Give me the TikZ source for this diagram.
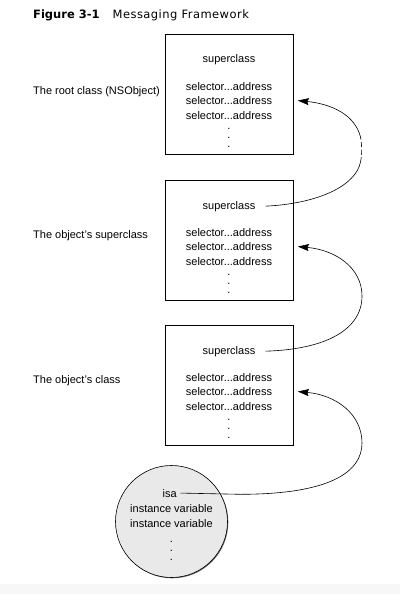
\documentclass[tikz,border=0pt]{standalone}
\usepackage{fontspec}
\setmainfont{Liberation Sans}
\newfontfamily\titlefont{DejaVu Sans}
\usetikzlibrary{arrows.meta,shadows}
\definecolor{objfill}{HTML}{E9E9E9}
\definecolor{bandfill}{HTML}{F7F7F7}
\begin{document}
\begin{tikzpicture}[x=1pt,y=-1pt,
  boxshadow/.style={drop shadow={shadow xshift=1.2pt,shadow yshift=-1.2pt,fill=black!60,opacity=1}},
  classbox/.style={draw=black,line width=0.6pt,fill=white,minimum width=128pt,minimum height=120pt,inner sep=0pt,boxshadow},
  objcircle/.style={circle,draw=black,line width=0.6pt,fill=objfill,minimum size=112pt,inner sep=0pt,
    drop shadow={shadow xshift=0.8pt,shadow yshift=-0.8pt,fill=black!60,opacity=1}},
  txt/.style={font=\fontsize{11}{13}\selectfont,anchor=base,inner sep=0pt},
  sidelabel/.style={font=\fontsize{11}{13}\selectfont,anchor=base west,inner sep=0pt},
  dotcol/.style={font=\fontsize{11}{9}\selectfont,align=center,anchor=north,inner sep=0pt},
  link/.style={line width=0.6pt,draw=black},
  linkarrow/.style={link,-{Stealth[length=11pt,width=7pt,inset=1.5pt]}},
]
\useasboundingbox (0,0) rectangle (400,594);
\fill[bandfill] (0,584) rectangle (400,594);

% title
\node[anchor=base west,inner sep=0pt,font=\titlefont\fontsize{11.5}{13}\selectfont] (title) at (33,19)
  {\textbf{Figure 3-1}\hspace{13pt}{\addfontfeature{LetterSpace=4}Messaging Framework}};

% class boxes
\foreach \i/\o in {1/0,2/146,3/291} {
  \node[classbox] (b\i) at (229,94+\o) {};
  \node[txt] (sc\i) at (229,63+\o) {superclass};
  \node[txt] (sa\i) at (229,90+\o) {selector...address};
  \node[txt] (sb\i) at (229,104.5+\o) {selector...address};
  \node[txt] (sd\i) at (229,119+\o) {selector...address};
  \node[dotcol] (dt\i) at (229,127.8+\o) {.\\.\\.};
  \coordinate (t\i) at ([xshift=4.5pt]b\i.east |- sb\i.center);
  \coordinate (s\i) at ([xshift=10pt]sc\i.east);
}

% side labels
\node[sidelabel] (l1) at (33,94) {The root class (NSObject)};
\node[sidelabel] (l2) at (33,238.5) {The object's superclass};
\node[sidelabel] (l3) at (33,383.5) {The object's class};

% object
\node[objcircle] (obj) at (171.5,521.5) {};
\node[txt,inner xsep=3.5pt] (isa) at (169.7,497) {isa};
\node[txt] (iv1) at (171.5,512) {instance variable};
\node[txt] (iv2) at (171.5,527) {instance variable};
\node[dotcol] (odt) at (171.5,540.8) {.\\.\\.};

% connectors
\draw[linkarrow] (isa.east) -- (240,494.3)
  .. controls (330,494.3) and (362,472) .. (362,443)
  .. controls (362,414) and (336,395) .. (t3);
\draw[linkarrow] (s3) .. controls (325,349.5) and (362,330) .. (362,296)
  .. controls (362,268) and (336,250) .. (t2);
\coordinate (dashA) at (360.5,162);
\coordinate (dashB) at (360.5,137);
\draw[link] (s2) .. controls (320,203.5) and (356,185) .. (dashA);
\draw[link,dash pattern=on 5pt off 2.5pt] (dashA) .. controls (362,155) and (362,145) .. (dashB);
\draw[linkarrow] (dashB) .. controls (355,115) and (332,104) .. (t1);
\end{tikzpicture}
\end{document}
